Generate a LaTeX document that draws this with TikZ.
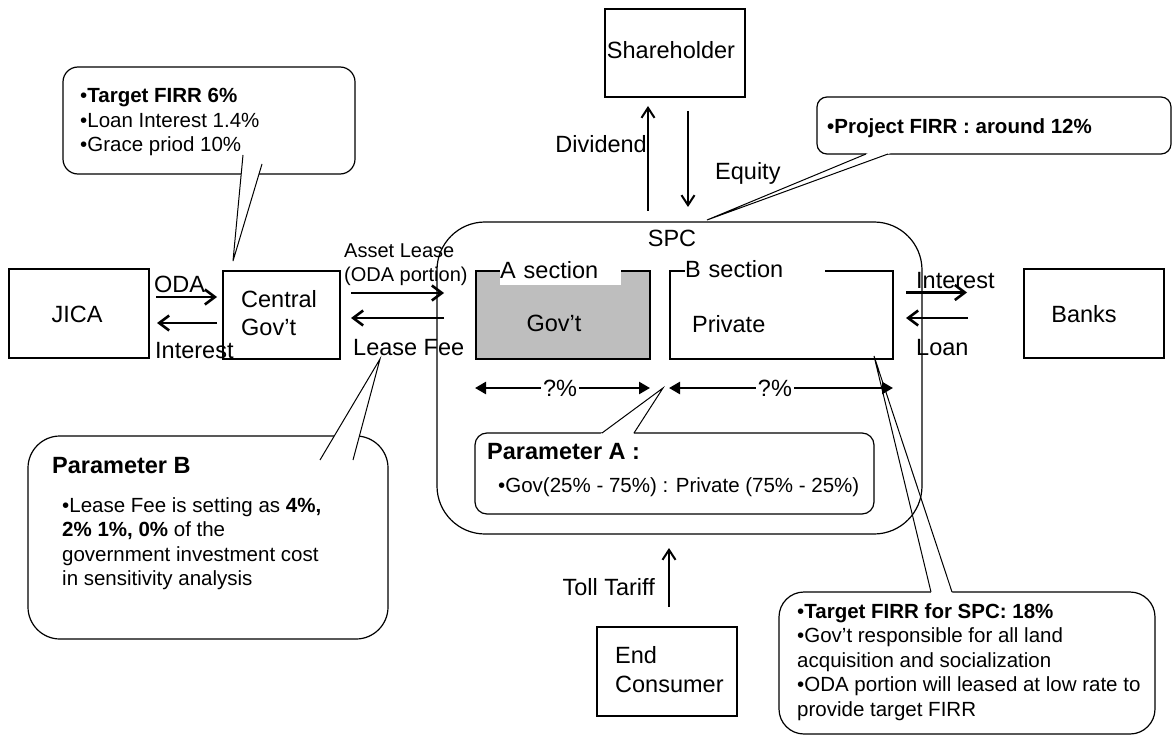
\documentclass[tikz,border=0pt]{standalone}
\usepackage{fontspec}
\setmainfont{Liberation Sans}
\usetikzlibrary{arrows.meta,calc}

% font sizes used in the chart
\newcommand{\bigtxt}{\fontsize{23.5}{28}\selectfont}
\newcommand{\smtxt}{\fontsize{20.5}{24.5}\selectfont}

\definecolor{govgray}{RGB}{190,190,190}

\begin{document}
\begin{tikzpicture}[x=1pt,y=-1pt,
  box/.style={draw, line width=1.2pt, inner sep=0pt},
  lbl/.style={inner sep=0pt, font=\bigtxt},
  slbl/.style={inner sep=0pt, font=\smtxt},
  flow/.style={line width=2.6pt, -{Straight Barb[length=10pt,width=15pt]}},
  thinflow/.style={line width=2pt, -{Straight Barb[length=10pt,width=13pt]}},
  share/.style={line width=2.5pt, {Triangle[length=11pt,width=12pt]}-{Triangle[length=11pt,width=12pt]}},
  callout/.style={draw, fill=white, line width=1.2pt},
  wedge/.style={line width=1pt},
]
\useasboundingbox (0,0) rectangle (1172,735);

% ---------- outer parties ----------
\node[box, minimum width=140, minimum height=89] (jica) at (79,313.5) {};
\node[lbl, anchor=base] (jicatxt) at (77,322) {JICA};

\node[box, minimum width=117, minimum height=88] (cgov) at (281.5,315) {};
\node[lbl, anchor=north west, align=left] (cgovtxt) at (241,290) {Central\\Gov’t};

\node[box, minimum width=140, minimum height=88] (share) at (675,53) {};
\node[lbl, anchor=base] (sharetxt) at (671,59) {Shareholder};

\node[box, minimum width=140, minimum height=89] (banks) at (1094,313.5) {};
\node[lbl, anchor=base] (bankstxt) at (1084,322) {Banks};

\node[box, minimum width=140, minimum height=89] (endc) at (667,671.5) {};
\node[lbl, anchor=north west, align=left, font=\fontsize{23.5}{29}\selectfont] (endctxt) at (615,646) {End\\Consumer};

% ---------- SPC ----------
\node[draw, line width=1.2pt, rounded corners=48pt, minimum width=485, minimum height=312, inner sep=0pt] (spc) at (679.5,378) {};
\node[lbl, anchor=base] (spctxt) at (672,247) {SPC};

\node[box, fill=govgray, minimum width=174, minimum height=88] (gov) at (563,315) {};
\node[lbl, anchor=base] (govtxt) at (554,331) {Gov’t};
\node[lbl, fill=white, anchor=south west, text width=121pt, inner ysep=6pt, align=left] (asec) at (500,285) {A section};

\node[box, minimum width=223, minimum height=88] (priv) at (781.5,315) {};
\node[lbl, anchor=base west] (privtxt) at (692,332) {Private};
\node[lbl, fill=white, anchor=south west, text width=140pt, inner ysep=4pt, align=left] (bsec) at (685,282) {B section};

% ---------- flows ----------
\coordinate (odaS) at (156,297);  \coordinate (odaE) at (217,297);
\coordinate (intS) at (217,323);  \coordinate (intE) at (157,323);
\draw[flow] (odaS) -- (odaE);
\draw[flow] (intS) -- (intE);
\node[lbl, anchor=base west] (odatxt) at (154,292) {ODA};
\node[lbl, anchor=base west] (inttxt) at (155,358) {Interest};

\coordinate (astS) at (351,293);  \coordinate (astE) at (444,293);
\coordinate (feeS) at (444,318);  \coordinate (feeE) at (351,318);
\draw[flow] (astS) -- (astE);
\draw[flow] (feeS) -- (feeE);
\node[anchor=north west, align=left, inner sep=0pt, font=\fontsize{20}{24}\selectfont] (asttxt) at (344,243.5) {Asset Lease\\(ODA portion)};
\node[lbl, anchor=base west] (feetxt) at (353,355) {Lease Fee};

\coordinate (bintS) at (906,292.5); \coordinate (bintE) at (967,292.5);
\coordinate (loanS) at (968,318);   \coordinate (loanE) at (906,318);
\draw[flow] (bintS) -- (bintE);
\draw[flow] (loanS) -- (loanE);
\node[lbl, anchor=base west] (binttxt) at (916,288) {Interest};
\node[lbl, anchor=base west] (loantxt) at (916,355) {Loan};

\coordinate (divS) at (648,211); \coordinate (divE) at (648,106);
\coordinate (eqS) at (688,111);  \coordinate (eqE) at (688,207);
\draw[thinflow] (divS) -- (divE);
\draw[thinflow] (eqS) -- (eqE);
\node[lbl, anchor=base east] (divtxt) at (647,153) {Dividend};
\node[lbl, anchor=base west] (eqtxt) at (715,180) {Equity};

\coordinate (tollS) at (669,607); \coordinate (tollE) at (669,548);
\draw[thinflow] (tollS) -- (tollE);
\node[lbl, anchor=base east] (tolltxt) at (655,595) {Toll Tariff};

% ---------- shares ----------
\coordinate (shAl) at (475,388); \coordinate (shAr) at (650,388);
\coordinate (shBl) at (669,388); \coordinate (shBr) at (893,388);
\draw[share] (shAl) -- (shAr) node[lbl, pos=0.486, fill=white, inner xsep=2pt] (shAtxt) {?\%};
\draw[share] (shBl) -- (shBr) node[lbl, pos=0.473, fill=white, inner xsep=2pt] (shBtxt) {?\%};

% ---------- callout: JICA loan terms ----------
\draw[callout, rounded corners=15pt] (63,67) rectangle (355,174);
\coordinate (c1a) at (243,155); \coordinate (c1b) at (262,164); \coordinate (c1tip) at (233,261);
\fill[white] (c1a) -- (c1tip) -- (c1b) -- cycle;
\draw[wedge] (c1a) -- (c1tip) -- (c1b);
\node[slbl, anchor=north west, align=left] (c1txt) at (80,88) {•\textbf{Target FIRR 6\%}\\•Loan Interest 1.4\%\\•Grace priod 10\%};

% ---------- callout: project FIRR ----------
\draw[callout, rounded corners=10pt] (817,97) rectangle (1171,154);
\coordinate (c2a) at (866,154); \coordinate (c2b) at (888,154); \coordinate (c2tip) at (707,220);
\fill[white] (c2a) -- (c2tip) -- (c2b) -- ($(c2b)!-4pt!(c2tip)$) -- ($(c2a)!-4pt!(c2tip)$) -- cycle;
\draw[wedge] (c2a) -- (c2tip) -- (c2b);
\node[slbl, anchor=base west] (c2txt) at (827,134) {\textbf{•Project FIRR : around 12\%}};

% ---------- callout: parameter A ----------
\draw[callout, rounded corners=12pt] (475,433) rectangle (874,514);
\coordinate (c3a) at (602,433); \coordinate (c3b) at (634,433); \coordinate (c3tip) at (663,388);
\fill[white] (c3a) -- (c3tip) -- (c3b) -- ($(c3b)!-4pt!(c3tip)$) -- ($(c3a)!-4pt!(c3tip)$) -- cycle;
\draw[wedge] (c3a) -- (c3tip) -- (c3b);
\node[lbl, anchor=base west] (c3head) at (487,459) {\textbf{Parameter A :}};
\node[slbl, anchor=base west] (c3txt) at (498,492) {•Gov(25\% - 75\%) : Private (75\% - 25\%)};

% ---------- callout: parameter B ----------
\draw[callout, rounded corners=32pt] (28,436) rectangle (388,639);
\coordinate (c4a) at (320,460); \coordinate (c4b) at (353,460); \coordinate (c4tip) at (380,359);
\fill[white] (c4a) -- (c4tip) -- (c4b) -- cycle;
\draw[wedge] (c4a) -- (c4tip) -- (c4b);
\node[lbl, anchor=base west] (c4head) at (52,473) {\textbf{Parameter B}};
\node[anchor=north west, align=left, inner sep=0pt, font=\smtxt] (c4txt) at (62,497) {•Lease Fee is setting as \textbf{4\%,}\\\textbf{2\% 1\%, 0\%} of the\\government investment cost\\in sensitivity analysis};

% ---------- callout: SPC targets ----------
\draw[callout, rounded corners=25pt] (779,592) rectangle (1155,734);
\coordinate (c5a) at (931,592); \coordinate (c5b) at (952,592); \coordinate (c5tip) at (874,356);
\fill[white] ($(c5a)!4pt!(c5tip)$) -- ($(c5b)!4pt!(c5tip)$) -- ($(c5b)!-4pt!(c5tip)$) -- ($(c5a)!-4pt!(c5tip)$) -- cycle;
\draw[wedge] (c5a) -- (c5tip) -- (c5b);
\node[slbl, anchor=north west, align=left] (c5txt) at (797,603) {•\textbf{Target FIRR for SPC: 18\%}\\•Gov’t responsible for all land\\acquisition and socialization\\•ODA portion will leased at low rate to\\provide target FIRR};
\end{tikzpicture}
\end{document}
